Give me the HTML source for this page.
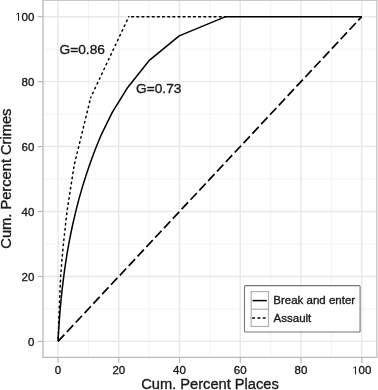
<!DOCTYPE html>
<html><head><meta charset="utf-8"><style>
html,body{margin:0;padding:0;background:#fff;}
svg{display:block;will-change:transform;}
text{font-family:"Liberation Sans",sans-serif;}
.t{fill:#1a1a1a;stroke:#1a1a1a;stroke-width:0.35px;}
</style></head><body>
<svg width="378" height="390" viewBox="0 0 378 390">
<rect x="42.85" y="0.32" width="334.04999999999995" height="357.43" fill="#fff"/>
<line x1="42.85" x2="376.9" y1="308.93" y2="308.93" stroke="#f4f4f4" stroke-width="1"/>
<line y1="0.32" y2="357.75" x1="88.40" x2="88.40" stroke="#f4f4f4" stroke-width="1"/>
<line x1="42.85" x2="376.9" y1="243.98" y2="243.98" stroke="#f4f4f4" stroke-width="1"/>
<line y1="0.32" y2="357.75" x1="149.14" x2="149.14" stroke="#f4f4f4" stroke-width="1"/>
<line x1="42.85" x2="376.9" y1="179.04" y2="179.04" stroke="#f4f4f4" stroke-width="1"/>
<line y1="0.32" y2="357.75" x1="209.88" x2="209.88" stroke="#f4f4f4" stroke-width="1"/>
<line x1="42.85" x2="376.9" y1="114.10" y2="114.10" stroke="#f4f4f4" stroke-width="1"/>
<line y1="0.32" y2="357.75" x1="270.62" x2="270.62" stroke="#f4f4f4" stroke-width="1"/>
<line x1="42.85" x2="376.9" y1="49.15" y2="49.15" stroke="#f4f4f4" stroke-width="1"/>
<line y1="0.32" y2="357.75" x1="331.36" x2="331.36" stroke="#f4f4f4" stroke-width="1"/>
<line x1="42.85" x2="376.9" y1="341.40" y2="341.40" stroke="#e8e8e8" stroke-width="1.4"/>
<line y1="0.32" y2="357.75" x1="58.03" x2="58.03" stroke="#e8e8e8" stroke-width="1.4"/>
<line x1="42.85" x2="376.9" y1="276.46" y2="276.46" stroke="#e8e8e8" stroke-width="1.4"/>
<line y1="0.32" y2="357.75" x1="118.77" x2="118.77" stroke="#e8e8e8" stroke-width="1.4"/>
<line x1="42.85" x2="376.9" y1="211.51" y2="211.51" stroke="#e8e8e8" stroke-width="1.4"/>
<line y1="0.32" y2="357.75" x1="179.51" x2="179.51" stroke="#e8e8e8" stroke-width="1.4"/>
<line x1="42.85" x2="376.9" y1="146.57" y2="146.57" stroke="#e8e8e8" stroke-width="1.4"/>
<line y1="0.32" y2="357.75" x1="240.25" x2="240.25" stroke="#e8e8e8" stroke-width="1.4"/>
<line x1="42.85" x2="376.9" y1="81.62" y2="81.62" stroke="#e8e8e8" stroke-width="1.4"/>
<line y1="0.32" y2="357.75" x1="300.99" x2="300.99" stroke="#e8e8e8" stroke-width="1.4"/>
<line x1="42.85" x2="376.9" y1="16.68" y2="16.68" stroke="#e8e8e8" stroke-width="1.4"/>
<line y1="0.32" y2="357.75" x1="361.73" x2="361.73" stroke="#e8e8e8" stroke-width="1.4"/>
<line x1="58.03" y1="341.40" x2="361.73" y2="16.68" stroke="#000" stroke-width="1.7" stroke-dasharray="9.3 3.63"/>
<polyline points="58.03,341.40 59.61,299.93 60.61,276.46 61.95,259.96 63.41,243.98 66.99,211.51 74.13,165.40" stroke="#000" stroke-width="1.5" stroke-linecap="round" stroke-linejoin="round" fill="none" stroke-dasharray="1.5 3.69" stroke-dashoffset="2.6"/>
<polyline points="74.13,165.40 90.65,97.70" stroke="#000" stroke-width="1.5" stroke-linecap="round" stroke-linejoin="round" fill="none" stroke-dasharray="1.5 3.73" stroke-dashoffset="3.29"/>
<polyline points="90.65,97.70 128.79,16.68" stroke="#000" stroke-width="1.5" stroke-linecap="round" stroke-linejoin="round" fill="none" stroke-dasharray="1.5 3.81" stroke-dashoffset="0.75"/>
<polyline points="128.79,16.68 225.67,16.68" stroke="#000" stroke-width="1.5" stroke-linecap="round" stroke-linejoin="round" fill="none" stroke-dasharray="1.8 3.355" stroke-dashoffset="2.255"/>
<polyline points="58.03,341.40 58.38,334.92 58.77,328.44 59.21,321.96 59.69,315.48 60.23,309.00 60.81,302.52 61.45,296.05 62.14,289.56 62.90,283.09 63.71,276.61 64.58,270.13 65.52,263.65 66.53,257.17 67.61,250.69 68.76,244.21 69.98,237.73 71.28,231.25 72.66,224.77 74.12,218.30 75.67,211.82 77.30,205.34 79.02,198.86 80.83,192.38 82.73,185.90 84.73,179.42 86.83,172.94 89.02,166.46 91.32,159.98 93.72,153.50 96.23,147.03 98.85,140.54 101.58,134.07 112.39,112.15 127.12,88.28 148.99,60.68 179.21,35.84 225.67,16.68 361.73,16.68" fill="none" stroke="#000" stroke-width="1.5" stroke-linejoin="round"/>
<text class="t" x="59.6" y="54.0" font-size="13.7">G=0.86</text>
<text class="t" x="136.1" y="93.0" font-size="13.7">G=0.73</text>
<rect x="244.5" y="285.6" width="115.6" height="46.4" fill="#fff" stroke="#777" stroke-width="1.1" rx="1"/>
<rect x="251.15" y="291.6" width="17.35" height="34.85" fill="#fff" stroke="#b0b0b0" stroke-width="1.2"/>
<line x1="251.15" x2="268.5" y1="309.2" y2="309.2" stroke="#b0b0b0" stroke-width="1.2"/>
<line x1="252.5" x2="266.8" y1="300.6" y2="300.6" stroke="#000" stroke-width="1.5"/>
<line x1="252.7" x2="266.8" y1="317.9" y2="317.9" stroke="#000" stroke-width="1.5" stroke-dasharray="1.8 3.5" stroke-linecap="round"/>
<text class="t" x="273.3" y="304.3" font-size="11.5">Break and enter</text>
<text class="t" x="273.6" y="321.6" font-size="11.5">Assault</text>
<line x1="42.2" x2="377.6" y1="0.5" y2="0.5" stroke="#c8c8c8" stroke-width="1.2"/>
<line x1="42.5" x2="377.6" y1="357.45" y2="357.45" stroke="#bababa" stroke-width="1.2"/>
<line x1="43.0" x2="43.0" y1="0" y2="358.1" stroke="#c0c0c0" stroke-width="1.5"/>
<line x1="376.75" x2="376.75" y1="0" y2="358.1" stroke="#cdcdcd" stroke-width="1.5"/>
<line x1="37.65" x2="42.85" y1="341.40" y2="341.40" stroke="#b3b3b3" stroke-width="1.1"/>
<line y1="357.75" y2="362.95" x1="58.03" x2="58.03" stroke="#b3b3b3" stroke-width="1.1"/>
<line x1="37.65" x2="42.85" y1="276.46" y2="276.46" stroke="#b3b3b3" stroke-width="1.1"/>
<line y1="357.75" y2="362.95" x1="118.77" x2="118.77" stroke="#b3b3b3" stroke-width="1.1"/>
<line x1="37.65" x2="42.85" y1="211.51" y2="211.51" stroke="#b3b3b3" stroke-width="1.1"/>
<line y1="357.75" y2="362.95" x1="179.51" x2="179.51" stroke="#b3b3b3" stroke-width="1.1"/>
<line x1="37.65" x2="42.85" y1="146.57" y2="146.57" stroke="#b3b3b3" stroke-width="1.1"/>
<line y1="357.75" y2="362.95" x1="240.25" x2="240.25" stroke="#b3b3b3" stroke-width="1.1"/>
<line x1="37.65" x2="42.85" y1="81.62" y2="81.62" stroke="#b3b3b3" stroke-width="1.1"/>
<line y1="357.75" y2="362.95" x1="300.99" x2="300.99" stroke="#b3b3b3" stroke-width="1.1"/>
<line x1="37.65" x2="42.85" y1="16.68" y2="16.68" stroke="#b3b3b3" stroke-width="1.1"/>
<line y1="357.75" y2="362.95" x1="361.73" x2="361.73" stroke="#b3b3b3" stroke-width="1.1"/>
<text class="t" x="54.83" y="374.30" font-size="11.5">0</text>
<text class="t" x="27.91" y="345.50" font-size="11.5">0</text>
<text class="t" x="112.38" y="374.30" font-size="11.5">2</text>
<text class="t" x="118.77" y="374.30" font-size="11.5">0</text>
<text class="t" x="21.51" y="280.56" font-size="11.5">2</text>
<text class="t" x="27.91" y="280.56" font-size="11.5">0</text>
<text class="t" x="173.12" y="374.30" font-size="11.5">4</text>
<text class="t" x="179.51" y="374.30" font-size="11.5">0</text>
<text class="t" x="21.51" y="215.61" font-size="11.5">4</text>
<text class="t" x="27.91" y="215.61" font-size="11.5">0</text>
<text class="t" x="233.86" y="374.30" font-size="11.5">6</text>
<text class="t" x="240.25" y="374.30" font-size="11.5">0</text>
<text class="t" x="21.51" y="150.67" font-size="11.5">6</text>
<text class="t" x="27.91" y="150.67" font-size="11.5">0</text>
<text class="t" x="294.60" y="374.30" font-size="11.5">8</text>
<text class="t" x="300.99" y="374.30" font-size="11.5">0</text>
<text class="t" x="21.51" y="85.72" font-size="11.5">8</text>
<text class="t" x="27.91" y="85.72" font-size="11.5">0</text>
<path class="t" d="M515 0V1237L197 1010V1180L530 1409H696V0Z" transform="translate(352.14,374.30) scale(0.005615,-0.005615)"/>
<text class="t" x="358.53" y="374.30" font-size="11.5">0</text>
<text class="t" x="364.93" y="374.30" font-size="11.5">0</text>
<path class="t" d="M515 0V1237L197 1010V1180L530 1409H696V0Z" transform="translate(15.12,20.78) scale(0.005615,-0.005615)"/>
<text class="t" x="21.51" y="20.78" font-size="11.5">0</text>
<text class="t" x="27.91" y="20.78" font-size="11.5">0</text>
<text class="t" x="210" y="389" font-size="14.67" text-anchor="middle">Cum. Percent Places</text>
<text class="t" transform="translate(11.4,178.6) rotate(-90)" x="0" y="0" font-size="14.67" text-anchor="middle">Cum. Percent Crimes</text>
</svg>
</body></html>
